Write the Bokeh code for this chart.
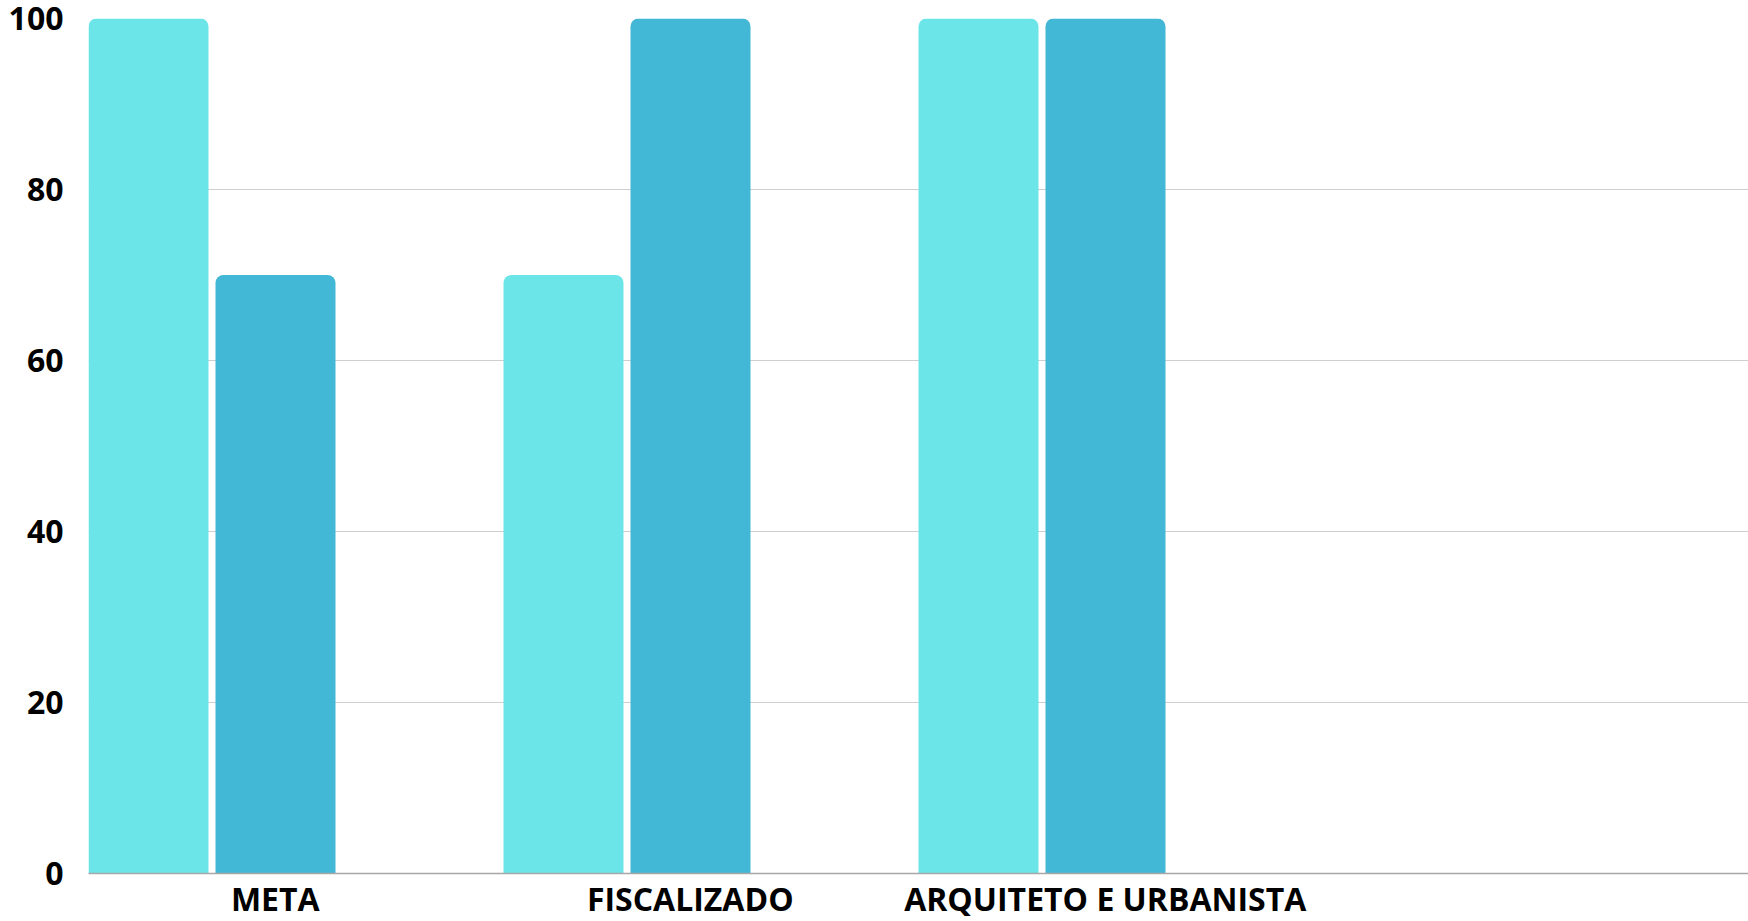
from bokeh.plotting import figure
from bokeh.models import ColumnDataSource, Range1d, FixedTicker
from bokeh.embed import file_html
from bokeh.resources import INLINE

categories = ["META", "FISCALIZADO", "ARQUITETO E URBANISTA"]
series_a = [100, 70, 100]
series_b = [70, 100, 100]
y_ticks = [0, 20, 40, 60, 80, 100]

n_slots = 4
bar_w = 120 / 415
off_a = 60 / 415
off_b = 187 / 415
label_off = 0.45

idx = list(range(len(categories)))
src = ColumnDataSource(dict(
    xa=[i + off_a for i in idx],
    xb=[i + off_b for i in idx],
    a=series_a,
    b=series_b,
))

p = figure(frame_width=1660, frame_height=855, output_backend="svg", toolbar_location=None,
           x_range=Range1d(0, n_slots), y_range=Range1d(0, 100),
           min_border_left=88, min_border_right=0, min_border_top=18, min_border_bottom=40)
p.outline_line_color = None
p.background_fill_color = "white"
p.border_fill_color = "white"

p.vbar(x="xa", top="a", bottom=0, width=bar_w, source=src, fill_color="#6be5e8",
       line_color=None, border_radius=(8, 8, 0, 0))
p.vbar(x="xb", top="b", bottom=0, width=bar_w, source=src, fill_color="#42b7d6",
       line_color=None, border_radius=(8, 8, 0, 0))

p.xgrid.visible = False
p.ygrid.grid_line_color = "#cfcfcf"
p.ygrid.grid_line_width = 1
p.yaxis.ticker = FixedTicker(ticks=y_ticks)
p.xaxis.ticker = FixedTicker(ticks=[i + label_off for i in idx])
p.xaxis.major_label_overrides = {i + label_off: c for i, c in zip(idx, categories)}

for ax in (p.xaxis, p.yaxis):
    ax.major_tick_line_color = None
    ax.minor_tick_line_color = None
    ax.major_tick_in = 0
    ax.major_tick_out = 0
    ax.major_label_text_font = "Open Sans"
    ax.major_label_text_font_style = "bold"
    ax.major_label_text_font_size = "32px"
    ax.major_label_text_color = "black"

p.yaxis.axis_line_color = None
p.yaxis.major_label_standoff = 25
p.xaxis.axis_line_color = "#a8a8a8"
p.xaxis.axis_line_width = 1.5
p.xaxis.major_label_standoff = 3

open("out.html", "w").write(file_html(p, INLINE))
